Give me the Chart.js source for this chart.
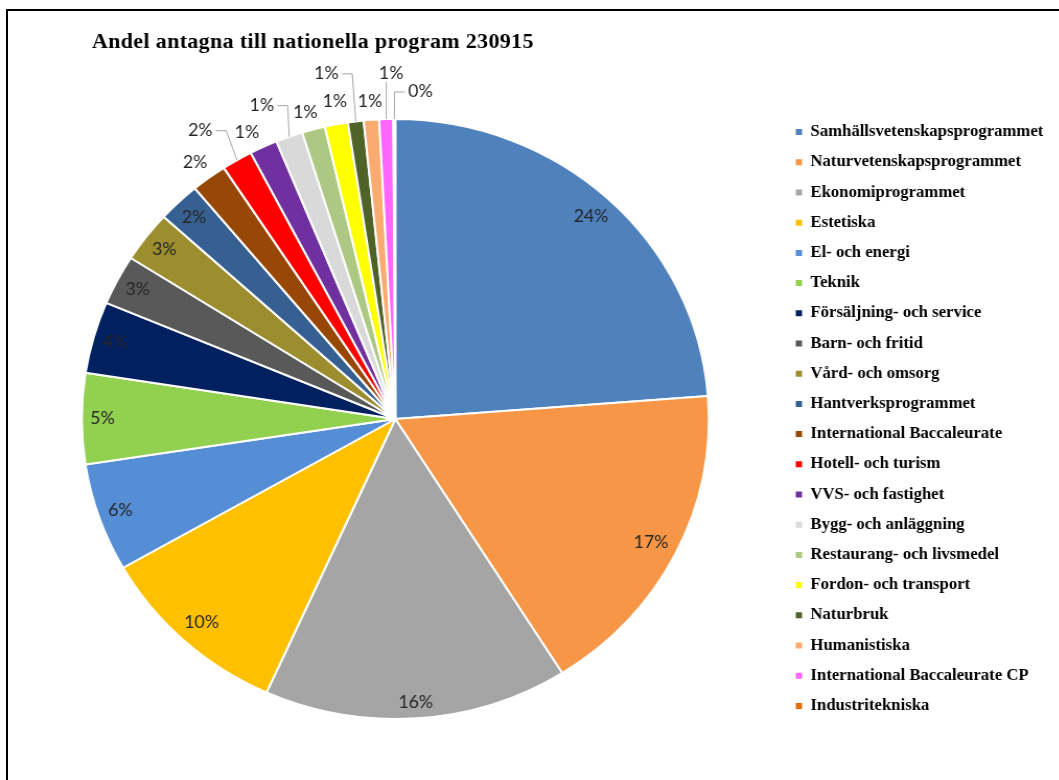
<!DOCTYPE html>
<html>
<head>
<meta charset="utf-8">
<script src="https://cdn.jsdelivr.net/npm/chart.js@4.4.0/dist/chart.umd.min.js"></script>
<style>
  html, body { margin: 0; padding: 0; background: #fff; overflow: hidden; }
  #frame { position: absolute; left: 6px; top: 9px; width: 1200px; height: 900px;
           border-left: 2px solid #000; border-top: 2px solid #000; }
  /* the original sheet picture is slightly stretched sideways */
  #wrap { position: absolute; left: 0; top: 0; width: 1014px; height: 780px;
          transform: scaleX(1.045); transform-origin: 0 0; }
</style>
</head>
<body>
<div id="frame"></div>
<div id="wrap"><canvas id="chart" width="1014" height="780"></canvas></div>
<script>
'use strict'

const chartTitle = 'Andel antagna till nationella program 230915';

const programs = [
    'Samhällsvetenskapsprogrammet', 'Naturvetenskapsprogrammet', 'Ekonomiprogrammet',
    'Estetiska', 'El- och energi', 'Teknik', 'Försäljning- och service', 'Barn- och fritid',
    'Vård- och omsorg', 'Hantverksprogrammet', 'International Baccaleurate',
    'Hotell- och turism', 'VVS- och fastighet', 'Bygg- och anläggning',
    'Restaurang- och livsmedel', 'Fordon- och transport', 'Naturbruk', 'Humanistiska',
    'International Baccaleurate CP', 'Industritekniska'
];

// share of admitted students, percent
const shares = [23.78, 17.28, 15.67, 10.0, 5.83, 4.89, 3.86, 2.69, 2.75, 2.19,
                1.83, 1.58, 1.44, 1.39, 1.19, 1.19, 0.81, 0.79, 0.72, 0.10];

const colors = [
    '#4F81BD', '#F79646', '#A5A5A5', '#FFC000', '#558ED5', '#92D050', '#002060', '#595959',
    '#9C8E2E', '#366092', '#974806', '#FF0000', '#7030A0', '#D9D9D9', '#ADC883', '#FFFF00',
    '#4F6228', '#F9AB70', '#FF66FF', '#E46C0A'
];

// thin slices at the top get their label outside: [px beyond rim, x nudge, leader line]
const outsideLabels = {
    10: [19, -2], 11: [34, -18, true], 12: [16, -9], 13: [33, -15, true], 14: [18, -3],
    15: [23, 3], 16: [48, -22, true], 17: [18, 0], 18: [46, 6, true], 19: [27, 25, true]
};

const labelFont = '17px Lato';
const legendFont = { family: '"Liberation Serif", serif', size: 16, weight: 'bold' };

// the legend width decides where the chart area stops, so measure it first
let mctx = document.createElement('canvas').getContext('2d');
mctx.font = 'bold 16px "Liberation Serif", serif';
let longest = Math.max(...programs.map(p => mctx.measureText(p).width));
let legendW = 12 + 6 + 8 + longest + 10;
let centerX = 379.4, legendLeft = 749.5;
let padRight = 1014 - legendLeft - legendW;
let padLeft = 2 * centerX - legendLeft;

const pctLabels = {
    id: 'pctLabels',
    afterDatasetsDraw(chart) {
        let ctx = chart.ctx;
        let meta = chart.getDatasetMeta(0);
        let data = chart.data.datasets[0].data;
        let total = data.reduce((a, b) => a + b, 0);
        ctx.save();
        ctx.font = labelFont;
        ctx.textAlign = 'center';
        ctx.textBaseline = 'middle';
        meta.data.forEach((arc, i) => {
            let p = arc.getProps(['x', 'y', 'startAngle', 'endAngle', 'outerRadius'], true);
            let mid = (p.startAngle + p.endAngle) / 2;
            let cos = Math.cos(mid), sin = Math.sin(mid);
            let text = Math.round(data[i] / total * 100) + '%';
            let hw = ctx.measureText(text).width / 2, hh = 7;
            let lx, ly;
            let out = outsideLabels[i];
            if (out) {
                lx = p.x + (p.outerRadius + out[0]) * cos + out[1];
                ly = p.y + (p.outerRadius + out[0]) * sin;
                if (out[2]) {
                    let ax = p.x + p.outerRadius * cos, ay = p.y + p.outerRadius * sin;
                    ctx.strokeStyle = '#A6A6A6';
                    ctx.lineWidth = 1;
                    ctx.beginPath();
                    if (Math.abs(ax - lx) <= hw) {
                        ctx.moveTo(ax, ly + hh + 2);
                    } else {
                        let side = Math.sign(ax - lx);
                        let sx = lx + side * (hw + 3);
                        ctx.moveTo(sx, ly);
                        ctx.lineTo(sx + side * Math.min(10, Math.abs(ax - sx)), ly);
                    }
                    ctx.lineTo(ax, ay);
                    ctx.stroke();
                }
            } else {
                let d = p.outerRadius - 8 - (hw * Math.abs(cos) + hh * Math.abs(sin));
                lx = p.x + d * cos;
                ly = p.y + d * sin;
            }
            ctx.fillStyle = '#262626';
            ctx.fillText(text, lx, ly);
        });
        ctx.restore();
    }
};

const sheetTitle = {
    id: 'sheetTitle',
    afterDraw(chart) {
        let ctx = chart.ctx;
        ctx.save();
        ctx.font = 'bold 21px "Liberation Serif", serif';
        ctx.letterSpacing = '0.35px';
        ctx.fillStyle = '#000';
        ctx.textBaseline = 'alphabetic';
        ctx.fillText(chartTitle, 88, 48);
        ctx.restore();
    }
};

new Chart(document.getElementById('chart'), {
    type: 'pie',
    data: {
        labels: programs,
        datasets: [{
            data: shares,
            backgroundColor: colors,
            borderColor: '#ffffff',
            borderWidth: 2,
            radius: 300
        }]
    },
    options: {
        responsive: false,
        animation: false,
        devicePixelRatio: 1,
        layout: { padding: { left: padLeft, right: padRight, top: 100, bottom: 42 } },
        plugins: {
            legend: {
                position: 'right',
                labels: {
                    boxWidth: 6,
                    boxHeight: 6,
                    padding: 14.2,
                    color: '#000',
                    font: legendFont,
                    generateLabels(chart) {
                        let items = Chart.overrides.pie.plugins.legend.labels.generateLabels(chart);
                        items.forEach(it => { it.lineWidth = 0; });
                        return items;
                    }
                }
            },
            tooltip: { enabled: false }
        }
    },
    plugins: [pctLabels, sheetTitle]
});
</script>
</body>
</html>
